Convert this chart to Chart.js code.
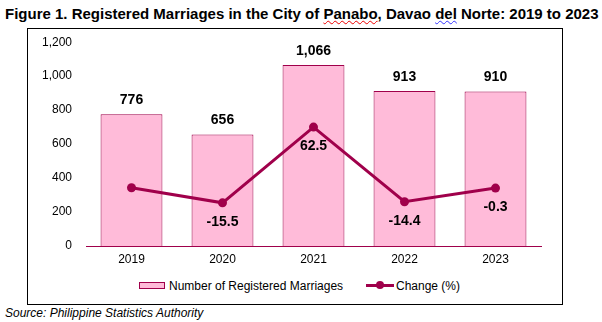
<!DOCTYPE html>
<html>
<head>
<meta charset="utf-8">
<script src="https://cdn.jsdelivr.net/npm/chart.js@4"></script>
<style>
  body { margin: 0; width: 602px; height: 322px; background: #fff; font-family: "Liberation Sans", Arial, sans-serif; position: relative; overflow: hidden; }
  #title { position: absolute; left: 5px; top: 5px; font-size: 15px; font-weight: bold; white-space: nowrap; color: #000; }
  .sp-red { text-decoration: underline wavy #e00; text-decoration-thickness: 1px; }
  .sp-blue { text-decoration: underline wavy #33f; text-decoration-thickness: 1px; }
  #box { position: absolute; left: 27px; top: 28px; width: 536px; height: 277px; border: 1px solid #000; box-sizing: border-box; }
  #wrap { position: absolute; left: 0; top: 0; width: 534px; height: 245px; }
  #legend { position: absolute; left: 0; top: 250px; width: 534px; font-size: 12px; color: #000; }
  .lg { position: absolute; top: 0; white-space: nowrap; }
  .barkey { display: inline-block; width: 24px; height: 5px; background: #FFBBD9; border: 1px solid #A0004B; vertical-align: middle; margin-right: 4px; position: relative; top: -1px; }
  .linekey { display: inline-block; width: 28px; height: 3px; background: #A0004B; vertical-align: middle; position: relative; top: -1px; margin-right: 2px; }
  .linekey::after { content: ""; position: absolute; left: 10px; top: -3px; width: 8px; height: 8px; border-radius: 50%; background: #A0004B; }
  #source { position: absolute; left: 5px; top: 306px; font-size: 12px; font-style: italic; color: #000; }
</style>
</head>
<body>
<div id="title">Figure 1. Registered Marriages in the City of <span class="sp-red">Panabo</span>, Davao <span class="sp-blue">del</span> Norte: 2019 to 2023</div>
<div id="box">
  <div id="wrap"><canvas id="chart"></canvas></div>
  <div id="legend">
    <span class="lg" style="left:111px"><span class="barkey"></span>Number of Registered Marriages</span>
    <span class="lg" style="left:338px"><span class="linekey"></span>Change (%)</span>
  </div>
</div>
<div id="source">Source: Philippine Statistics Authority</div>

<script>
const years = ["2019", "2020", "2021", "2022", "2023"];
const marriages = [776, 656, 1066, 913, 910];
const changePct = [0, -15.5, 62.5, -14.4, -0.3];
const changeLabels = ["", "-15.5", "62.5", "-14.4", "-0.3"];

const crimson = "#A0004B";
const pink = "#FFBBD9";

// draws the number labels on bars and line points
const valueLabels = {
  id: "valueLabels",
  afterDatasetsDraw(chart) {
    const ctx = chart.ctx;
    ctx.save();
    ctx.font = "bold 14px 'Liberation Sans', Arial, sans-serif";
    ctx.fillStyle = "#000";
    ctx.textAlign = "center";
    ctx.textBaseline = "middle";
    chart.getDatasetMeta(0).data.forEach((bar, i) => {
      ctx.fillText(marriages[i].toLocaleString("en-US"), bar.x, bar.y - 14);
    });
    chart.getDatasetMeta(1).data.forEach((pt, i) => {
      if (changeLabels[i]) ctx.fillText(changeLabels[i], pt.x, pt.y + 19);
    });
    ctx.restore();
  }
};

new Chart(document.getElementById("chart"), {
  data: {
    labels: years,
    datasets: [
      {
        type: "bar",
        label: "Number of Registered Marriages",
        data: marriages,
        yAxisID: "y",
        backgroundColor: pink,
        borderColor: crimson,
        borderWidth: 1,
        categoryPercentage: 1,
        barPercentage: 0.68,
        order: 1,
      },
      {
        type: "line",
        label: "Change (%)",
        data: changePct,
        yAxisID: "y1",
        borderColor: crimson,
        backgroundColor: crimson,
        borderWidth: 3,
        pointRadius: 4.5,
        pointBackgroundColor: crimson,
        pointBorderWidth: 0,
        order: 0,
      },
    ],
  },
  options: {
    responsive: true,
    maintainAspectRatio: false,
    animation: false,
    layout: { padding: { left: 0, top: 10, right: 21, bottom: 0 } },
    plugins: { legend: { display: false }, tooltip: { enabled: false } },
    scales: {
      x: {
        grid: { drawOnChartArea: false, drawTicks: false },
        border: { display: true, color: crimson, width: 1 },
        ticks: { color: "#000", padding: 6, font: { size: 12, family: "'Liberation Sans', Arial" } },
        afterFit: (s) => { s.height = 28; },
      },
      y: {
        min: 0,
        max: 1200,
        ticks: {
          stepSize: 200,
          color: "#000",
          padding: 6,
          font: { size: 12, family: "'Liberation Sans', Arial" },
          callback: (v) => v.toLocaleString("en-US"),
        },
        grid: { display: false },
        border: { display: false },
        afterFit: (s) => { s.width = 58; },
      },
      y1: {
        display: false,
        min: -60,
        max: 150,
      },
    },
  },
  plugins: [valueLabels],
});
</script>
</body>
</html>
